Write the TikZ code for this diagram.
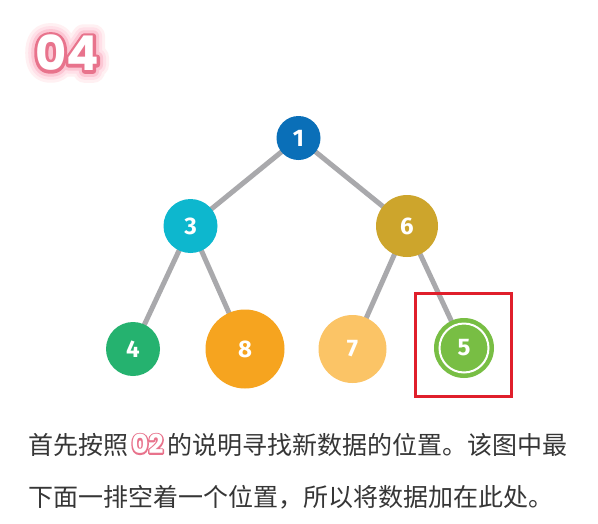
\documentclass[tikz,border=0pt]{standalone}
\usepackage{fontspec}
\setmainfont{Liberation Sans}
\newfontfamily\cjk{Noto Sans CJK SC}
\newfontfamily\numfont{Fira Sans}
\newfontfamily\titlefont{Poppins}
\usetikzlibrary{backgrounds}
\definecolor{cBlue}{HTML}{0A6FB8}
\definecolor{cCyan}{HTML}{0DB7CE}
\definecolor{cGold}{HTML}{CDA52C}
\definecolor{cGreen}{HTML}{25B26F}
\definecolor{cOrange}{HTML}{F6A41F}
\definecolor{cLight}{HTML}{FBC466}
\definecolor{cLime}{HTML}{78BE44}
\definecolor{cEdge}{HTML}{A9A9AC}
\definecolor{cRed}{HTML}{E01F2B}
\definecolor{cPink}{HTML}{E8728C}
\definecolor{cText}{HTML}{363636}
% stroked text (text render mode 1 = stroke only)
\newcommand\strokedtext[3]{% width, rgb, text
  \special{pdf:literal direct q 1 Tr #1 w 1 J 1 j #2 RG}#3\special{pdf:literal direct Q}}
\tikzset{
  treenode/.style={circle, inner sep=0pt, text=white,
    font=\numfont\bfseries\fontsize{24}{24}\selectfont},
  edge/.style={draw=cEdge, line width=5pt},
  cjktext/.style={inner sep=0pt, anchor=west, text=cText,
    font=\cjk\fontsize{25}{25}\selectfont},
  titletext/.style={inner sep=0pt, font=\titlefont\bfseries\fontsize{48}{48}\selectfont},
  badgetext/.style={inner sep=0pt, font=\titlefont\bfseries\fontsize{26}{26}\selectfont},
}
\begin{document}
\begin{tikzpicture}[x=1pt,y=-1pt]
\useasboundingbox (0,0) rectangle (598,523);
\begin{scope}[on background layer]
  \fill[white] (0,0) rectangle (598,523);
\end{scope}

% title "04" with soft pink glow and outline
\node[titletext, text=white] (titleg) at (67,53) {%
  \strokedtext{24}{1 0.94 0.95}{04}%
  \llap{\strokedtext{18}{1 0.88 0.91}{04}}%
  \llap{\strokedtext{12}{0.99 0.78 0.83}{04}}%
  \llap{\strokedtext{6}{0.91 0.45 0.55}{04}}};
\node[titletext, text=white] (title) at (67,53) {04};

% tree nodes
\node[treenode, fill=cBlue,   minimum size=44pt] (n1) at (298.5,138) {1};
\node[treenode, fill=cCyan,   minimum size=54pt] (n3) at (190.5,226) {3};
\node[treenode, fill=cGold,   minimum size=62pt] (n6) at (407,226) {6};
\node[treenode, fill=cGreen,  minimum size=54pt] (n4) at (133,349) {4};
\node[treenode, fill=cOrange, minimum size=79pt] (n8) at (245,349) {8};
\node[treenode, fill=cLight,  minimum size=68pt] (n7) at (352.5,349) {7};
\node[treenode, fill=cLime,   minimum size=60pt] (n5) at (464,348) {5};
\draw[white, line width=2pt] (n5.center) circle[radius=24.5pt];

\begin{scope}[on background layer]
  \draw[edge] (n1.center) -- (n3.center);
  \draw[edge] (n1.center) -- (n6.center);
  \draw[edge] (n3.center) -- (n4.center);
  \draw[edge] (n3.center) -- (n8.center);
  \draw[edge] (n6.center) -- (n7.center);
  \draw[edge] (n6.center) -- (n5.center);
\end{scope}

% red highlight box
\node[draw=cRed, line width=3pt, inner sep=0pt, minimum width=96pt, minimum height=103pt] (box) at (463.5,344.5) {};

% caption text
\node[cjktext] (l1a) at (28,445) {首先按照};
\node[badgetext, text=white] (badgeo) at (147.5,444) {\strokedtext{3}{0.91 0.45 0.55}{02}};
\node[badgetext, text=white] (badge) at (147.5,444) {02};
\node[cjktext] (l1b) at (167,445) {的说明寻找新数据的位置。该图中最};
\node[cjktext] (l2) at (28,497) {下面一排空着一个位置，所以将数据加在此处。};
\end{tikzpicture}
\end{document}
